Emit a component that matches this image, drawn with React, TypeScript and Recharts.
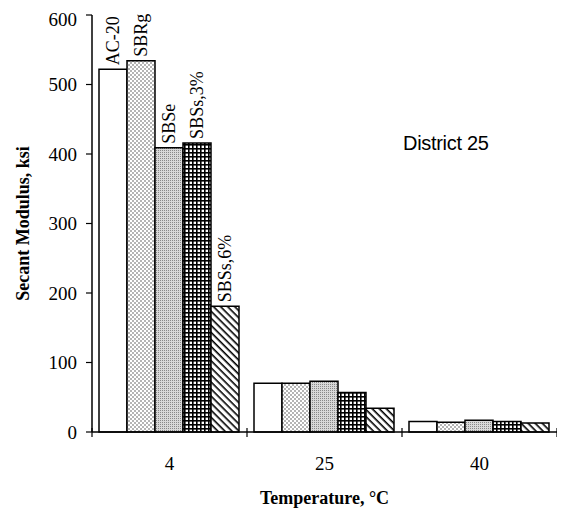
import React from 'react';
import { BarChart, Bar, XAxis, YAxis, LabelList } from 'recharts';

const categories = ['4', '25', '40'];
const ac20 = [522, 70, 15];
const sbrg = [534, 70, 14];
const sbse = [409, 73, 17];
const sbs3 = [416, 57, 15];
const sbs6 = [181, 34, 13];
const seriesNames = ['AC-20', 'SBRg', 'SBSe', 'SBSs,3%', 'SBSs,6%'];
const yTicks = [0, 100, 200, 300, 400, 500, 600];

const data = categories.map((c, i) => ({
  temp: c,
  ac20: ac20[i],
  sbrg: sbrg[i],
  sbse: sbse[i],
  sbs3: sbs3[i],
  sbs6: sbs6[i],
}));

const serif = '"Liberation Serif", "Times New Roman", serif';
const TICK_GAP = 25;

const series = [
  { key: 'ac20', fill: '#ffffff' },
  { key: 'sbrg', fill: 'url(#dots)' },
  { key: 'sbse', fill: 'url(#stipple)' },
  { key: 'sbs3', fill: 'url(#grid)' },
  { key: 'sbs6', fill: 'url(#hatch)' },
];

const makeTopLabel = (name: string) => (props: any) => {
  const { x, y, width, index } = props;
  if (index !== 0) return null;
  const cx = Number(x) + Number(width) / 2 + 6;
  const cy = Number(y) - 4;
  return (
    <text
      x={cx}
      y={cy}
      transform={`rotate(-90, ${cx}, ${cy})`}
      textAnchor="start"
      fontFamily={serif}
      fontSize={18}
      fill="#000"
    >
      {name}
    </text>
  );
};

const YTitle = (props: any) => {
  const vb = props.viewBox || {};
  const cy = vb.y + vb.height / 2;
  const cx = 21;
  return (
    <text
      x={cx}
      y={cy}
      transform={`rotate(-90, ${cx}, ${cy})`}
      textAnchor="middle"
      fontFamily={serif}
      fontWeight="bold"
      fontSize={18}
      fill="#000"
    >
      Secant Modulus, ksi
    </text>
  );
};

// category tick: label in the band centre, axis segment and tick marks on the band edges
const CatTick = (props: any) => {
  const { x, y, payload, width, visibleTicksCount, index } = props;
  const band = Number(width) / Number(visibleTicksCount || 3);
  const left = x - band / 2;
  const right = x + band / 2;
  const axisY = y - TICK_GAP;
  return (
    <g>
      <line x1={left} x2={right} y1={axisY} y2={axisY} stroke="#000" strokeWidth={1.5} />
      <line x1={left} x2={left} y1={axisY - 4} y2={axisY + 5} stroke="#000" strokeWidth={1.2} />
      {index === visibleTicksCount - 1 && (
        <line x1={right} x2={right} y1={axisY - 4} y2={axisY + 5} stroke="#000" strokeWidth={1.2} />
      )}
      <text x={x} y={y} dy="0.71em" textAnchor="middle" fontFamily={serif} fontSize={19} fill="#000">
        {payload.value}
      </text>
    </g>
  );
};

export default function App() {
  return (
    <div style={{ position: 'relative', width: 557, height: 506 }}>
      <BarChart
        width={557}
        height={506}
        data={data}
        margin={{ top: 7, right: 8, left: 0, bottom: 0 }}
        barCategoryGap={7}
        barGap={0}
      >
        <defs>
          <pattern id="dots" width="4" height="4" patternUnits="userSpaceOnUse">
            <rect width="4" height="4" fill="#fff" />
            <circle cx="1" cy="1" r="0.8" fill="#555" />
            <circle cx="3" cy="3" r="0.8" fill="#555" />
          </pattern>
          <pattern id="stipple" width="2" height="2" patternUnits="userSpaceOnUse">
            <rect width="2" height="2" fill="#d8d8d8" />
            <rect width="1" height="1" fill="#888" />
          </pattern>
          <pattern id="grid" width="4" height="4" patternUnits="userSpaceOnUse">
            <rect width="4" height="4" fill="#fff" />
            <rect width="4" height="1.6" fill="#000" />
            <rect width="1.6" height="4" fill="#000" />
          </pattern>
          <pattern id="hatch" width="5" height="5" patternUnits="userSpaceOnUse" patternTransform="rotate(45)">
            <rect width="5" height="5" fill="#fff" />
            <rect width="5" height="1.6" fill="#000" />
          </pattern>
        </defs>
        <XAxis
          dataKey="temp"
          axisLine={false}
          tickLine={false}
          tickSize={0}
          tickMargin={TICK_GAP}
          height={82}
          tick={<CatTick />}
          interval={0}
          label={{
            value: 'Temperature, \u00b0C',
            position: 'insideBottom',
            offset: 10,
            fill: '#000',
            fontFamily: serif,
            fontWeight: 'bold',
            fontSize: 18,
          }}
        />
        <YAxis
          width={84}
          domain={[0, 600]}
          ticks={yTicks}
          tickSize={6}
          tickMargin={9}
          axisLine={{ stroke: '#000', strokeWidth: 1.5 }}
          tickLine={{ stroke: '#000', strokeWidth: 1.2 }}
          tick={{ fill: '#000', fontFamily: serif, fontSize: 19 }}
          label={<YTitle />}
        />
        {series.map((s, i) => (
          <Bar
            key={s.key}
            dataKey={s.key}
            fill={s.fill}
            stroke="#000"
            strokeWidth={1.5}
            isAnimationActive={false}
          >
            <LabelList dataKey={s.key} content={makeTopLabel(seriesNames[i])} />
          </Bar>
        ))}
      </BarChart>
      <div
        style={{
          position: 'absolute',
          left: 395,
          top: 124,
          fontFamily: '"Liberation Sans", Arial, sans-serif',
          fontSize: 20,
          color: '#000',
          letterSpacing: -0.3,
        }}
      >
        District 25
      </div>
    </div>
  );
}
